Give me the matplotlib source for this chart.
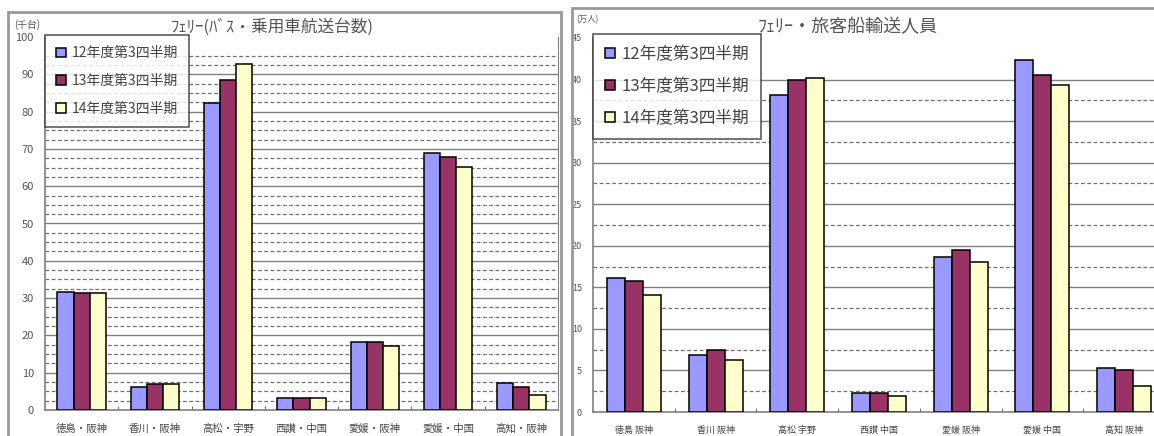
import numpy as np
import matplotlib.pyplot as plt
from matplotlib.patches import Rectangle

plt.rcParams['font.family'] = ['Noto Sans CJK JP', 'DejaVu Sans']

# routes and periods
routes_car = ['徳島・阪神', '香川・阪神', '高松・宇野', '西讃・中国', '愛媛・阪神', '愛媛・中国', '高知・阪神']
routes_pax = ['徳島 阪神', '香川 阪神', '高松 宇野', '西讃 中国', '愛媛 阪神', '愛媛 中国', '高知 阪神']
periods = ['12年度第3四半期', '13年度第3四半期', '14年度第3四半期']

# bus / car ferry traffic (thousand vehicles)
cars_h12 = [31.7, 6.3, 82.4, 3.3, 18.3, 69.0, 7.3]
cars_h13 = [31.3, 7.1, 88.5, 3.3, 18.3, 67.7, 6.3]
cars_h14 = [31.3, 7.0, 92.8, 3.3, 17.2, 65.2, 4.0]

# ferry / passenger ship passengers (10 thousand people)
pax_h12 = [16.1, 6.9, 38.1, 2.3, 18.6, 42.3, 5.3]
pax_h13 = [15.8, 7.5, 40.0, 2.3, 19.5, 40.5, 5.1]
pax_h14 = [14.1, 6.3, 40.2, 1.9, 18.1, 39.3, 3.1]

colors = ['#9999ff', '#993366', '#ffffcc']


def draw_panel(ax, series, labels, ymax, major, grid_top, tick_fs, cat_fs):
    x = np.arange(len(labels))
    w = 0.22
    for i, vals in enumerate(series):
        ax.bar(x + (i - 1) * w, vals, w, color=colors[i], edgecolor='black',
               linewidth=1.1, label=periods[i], zorder=3)
    ax.set_xlim(-0.5, len(labels) - 0.5)
    ax.set_ylim(0, ymax)
    # solid major lines, dashed lines in between
    for y in np.arange(major, grid_top + 0.01, major):
        ax.axhline(y, color='#808080', lw=1.0, zorder=1)
    step = major / 4 if major == 10 else major / 2
    for y in np.arange(step, grid_top + 0.01, step):
        if abs(y / major - round(y / major)) > 1e-6:
            ax.axhline(y, color='#707070', lw=0.9, ls=(0, (3, 2)), zorder=1)
    ax.set_yticks(np.arange(0, ymax + 0.01, major))
    ax.tick_params(axis='y', labelsize=tick_fs, labelcolor='#555555', length=0, pad=8)
    ax.set_xticks(x)
    ax.set_xticklabels(labels, fontsize=cat_fs, color='#444444')
    ax.set_xticks(np.arange(0.5, len(labels) - 0.5), minor=True)
    ax.tick_params(axis='x', which='major', length=0, pad=10)
    ax.tick_params(axis='x', which='minor', length=3, direction='in', color='#555555')
    for s in ['top', 'right']:
        ax.spines[s].set_visible(False)
    for s in ['left', 'bottom']:
        ax.spines[s].set_color('#808080')
        ax.spines[s].set_linewidth(1.2)


fig = plt.figure(figsize=(11.54, 4.36), dpi=100)

# panel frames
fig.patches.append(Rectangle((8 / 1154, -0.05), 553 / 1154, 1.05 - 12 / 436, transform=fig.transFigure,
                             fill=False, edgecolor='#999999', lw=2))
fig.patches.append(Rectangle((572 / 1154, -0.05), 0.6, 1.05 - 8 / 436, transform=fig.transFigure,
                             fill=False, edgecolor='#999999', lw=2))

ax1 = fig.add_axes([45 / 1154, 1 - 410 / 436, 513 / 1154, 373 / 436])
draw_panel(ax1, [cars_h12, cars_h13, cars_h14], routes_car, 100, 10, 95, 8, 7.5)
ax1.spines['right'].set_visible(True)
ax1.spines['right'].set_color('#808080')
leg1 = ax1.legend(loc='upper left', bbox_to_anchor=(0, 1.005), fontsize=10, frameon=True,
                  fancybox=False, edgecolor='#333333', handlelength=0.7, handleheight=0.7,
                  handletextpad=0.4, labelspacing=1.0, borderpad=0.8, borderaxespad=0)
leg1.get_frame().set_linewidth(1.2)
for t in leg1.get_texts():
    t.set_color('#444444')

ax2 = fig.add_axes([593 / 1154, 1 - 412 / 436, 572 / 1154, 374 / 436])
draw_panel(ax2, [pax_h12, pax_h13, pax_h14], routes_pax, 45, 5, 40, 6.5, 6.5)
leg2 = ax2.legend(loc='upper left', bbox_to_anchor=(0, 1.01), fontsize=12, frameon=True,
                  fancybox=False, edgecolor='#333333', handlelength=0.6, handleheight=0.6,
                  handletextpad=0.4, labelspacing=0.9, borderpad=0.7, borderaxespad=0)
leg2.get_frame().set_linewidth(1.2)
for t in leg2.get_texts():
    t.set_color('#444444')

fig.text(272 / 1154, 1 - 27 / 436, 'ﾌｪﾘｰ(ﾊﾞｽ・乗用車航送台数)', fontsize=12, color='#555555',
         ha='center', va='center')
fig.text(848 / 1154, 1 - 27 / 436, 'ﾌｪﾘｰ・旅客船輸送人員', fontsize=13, color='#555555',
         ha='center', va='center')
fig.text(14 / 1154, 1 - 25 / 436, '(千台)', fontsize=7, color='#555555', va='center')
fig.text(576 / 1154, 1 - 20 / 436, '(万人)', fontsize=6, color='#555555', va='center')

fig.savefig('out.png', dpi=100)
